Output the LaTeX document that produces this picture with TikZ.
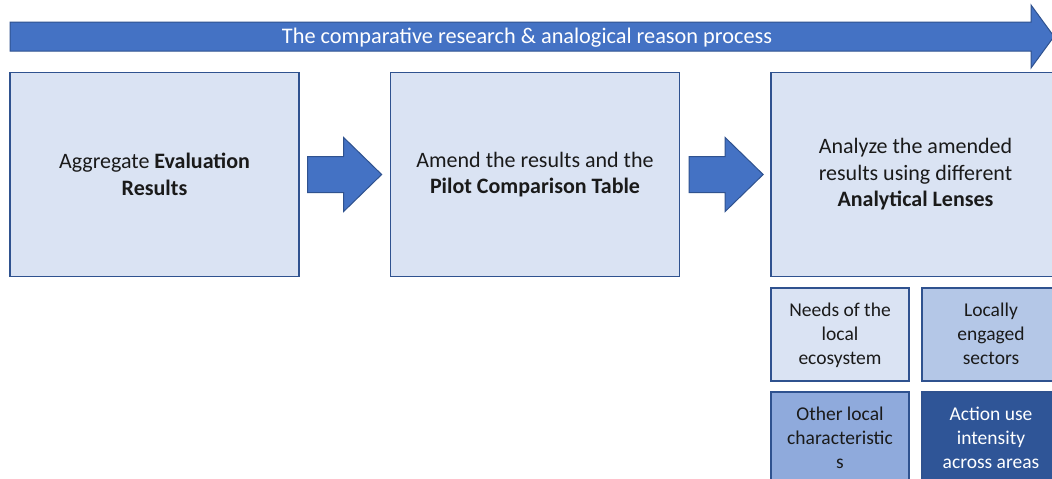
\documentclass[tikz,border=0pt]{standalone}
\usepackage{fontspec}
\setmainfont{Carlito}
\usetikzlibrary{calc}
\definecolor{lightfill}{HTML}{DAE3F3}
\definecolor{midfill}{HTML}{B4C7E7}
\definecolor{darkerfill}{HTML}{8FAADC}
\definecolor{deepfill}{HTML}{2F5597}
\definecolor{accent}{HTML}{4472C4}
\definecolor{edge}{HTML}{2F528F}
\definecolor{txt}{HTML}{1A1A1A}
\tikzset{
  bigbox/.style={draw=edge, fill=lightfill, line width=1.3pt, minimum width=289pt, minimum height=204pt, align=center, text=txt, font=\fontsize{22}{26.5}\selectfont, inner sep=0pt},
  smallbox/.style={draw=edge, line width=1.3pt, minimum width=138pt, minimum height=93pt, align=center, text=txt, font=\fontsize{19.5}{24}\selectfont, inner sep=0pt, text depth=1pt},
  blockarrow/.style={fill=accent, draw=edge, line width=1pt},
}
\begin{document}
\begin{tikzpicture}[x=1pt,y=-1pt]
\clip (0,0) rectangle (1052,479);
\fill[white] (0,0) rectangle (1052,479);
% top process arrow
\draw[blockarrow] (10,22) -- (1031,22) -- (1031,5) -- (1054,36.5) -- (1031,68) -- (1031,51) -- (10,51) -- cycle;
\node[text=white, font=\fontsize{22.3}{26}\selectfont] (title) at (527,37.5) {The comparative research \& analogical reason process};
% main boxes
\node[bigbox] (b1) at (154.5,174.5) {Aggregate \textbf{Evaluation}\\\textbf{Results}};
\node[bigbox] (b2) at (535,174.5) {Amend the results and the\\\textbf{Pilot Comparison Table}};
\node[bigbox] (b3) at (915.5,174.5) {Analyze the amended\\results using different\\\textbf{Analytical Lenses}};
% block arrows
\draw[blockarrow] ($(b1.east)+(8,-18)$) -- ++(36,0) -- ++(0,-19) -- ++(38,37) -- ++(-38,37) -- ++(0,-19) -- ++(-36,0) -- cycle;
\draw[blockarrow] ($(b2.east)+(9,-18)$) -- ++(36,0) -- ++(0,-19) -- ++(38,37) -- ++(-38,37) -- ++(0,-19) -- ++(-36,0) -- cycle;
% lens boxes
\node[smallbox, fill=lightfill] (l1) at (840,334.5) {Needs of the\\local\\ecosystem};
\node[smallbox, fill=midfill] (l2) at (991,334.5) {Locally\\engaged\\sectors};
\node[smallbox, fill=darkerfill] (l3) at (840,438.5) {Other local\\characteristic\\s};
\node[smallbox, fill=deepfill, text=white] (l4) at (991,438.5) {Action use\\intensity\\across areas};
\end{tikzpicture}
\end{document}
